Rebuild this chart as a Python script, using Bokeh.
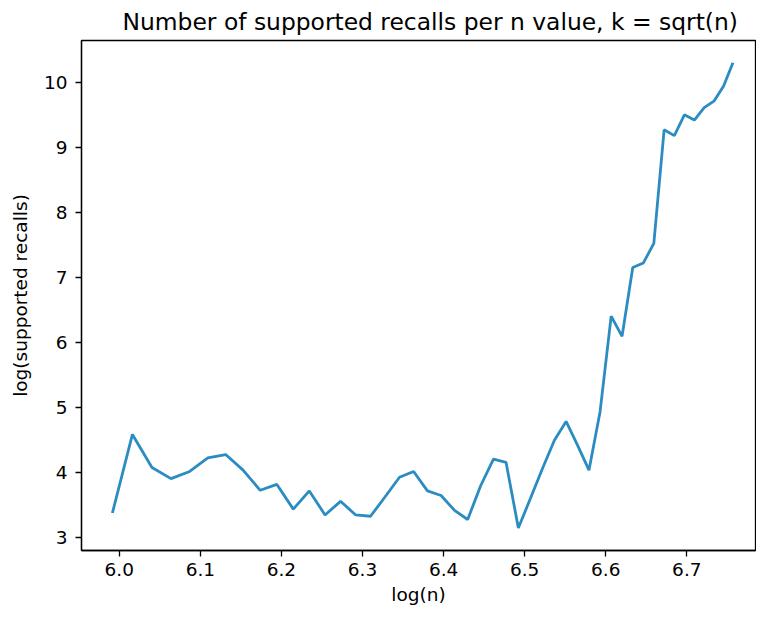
from bokeh.plotting import figure
from bokeh.models import FixedTicker, PrintfTickFormatter, Range1d
from bokeh.embed import file_html
from bokeh.resources import INLINE

# log(n) values, n = 400 .. 860 in steps of 10
log_n = [5.9915, 6.0162, 6.0403, 6.0638, 6.0868, 6.1092, 6.1312, 6.1527, 6.1738, 6.1944,
         6.2146, 6.2344, 6.2538, 6.2729, 6.2916, 6.3099, 6.3279, 6.3456, 6.3630, 6.3801,
         6.3969, 6.4135, 6.4297, 6.4457, 6.4615, 6.4770, 6.4922, 6.5073, 6.5221, 6.5367,
         6.5511, 6.5653, 6.5793, 6.5930, 6.6067, 6.6201, 6.6333, 6.6464, 6.6593, 6.6720,
         6.6846, 6.6970, 6.7093, 6.7214, 6.7334, 6.7452, 6.7569]
log_recalls = [3.37, 4.58, 4.07, 3.90, 4.01, 4.22, 4.27, 4.03, 3.72, 3.81,
               3.43, 3.71, 3.34, 3.55, 3.34, 3.32, 3.62, 3.92, 4.01, 3.71,
               3.64, 3.41, 3.27, 3.79, 4.20, 4.15, 3.14, 3.60, 4.06, 4.49,
               4.78, 4.41, 4.03, 4.93, 6.40, 6.09, 7.15, 7.22, 7.52, 9.27,
               9.18, 9.50, 9.42, 9.61, 9.71, 9.94, 10.30]
x_ticks = [6.0, 6.1, 6.2, 6.3, 6.4, 6.5, 6.6, 6.7]
y_ticks = [3, 4, 5, 6, 7, 8, 9, 10]

FONT = "DejaVu Sans"

p = figure(width=756, height=607, output_backend="svg", toolbar_location=None,
           title="Number of supported recalls per n value, k = sqrt(n)",
           x_range=Range1d(5.9534, 6.7847), y_range=Range1d(2.793, 10.644),
           min_border_left=81, min_border_right=1, min_border_top=38, min_border_bottom=54)

p.line(log_n, log_recalls, line_color="#2b8cc2", line_width=2.8)

p.title.text_font = FONT
p.title.text_font_size = "23.4px"
p.title.text_font_style = "normal"
p.title.align = "left"
p.title.offset = 41
p.title.text_color = "black"

p.xgrid.visible = False
p.ygrid.visible = False
p.outline_line_color = "black"
p.outline_line_width = 1.3

p.xaxis.ticker = FixedTicker(ticks=x_ticks)
p.yaxis.ticker = FixedTicker(ticks=y_ticks)
p.xaxis.formatter = PrintfTickFormatter(format="%.1f")
p.yaxis.formatter = PrintfTickFormatter(format="%d")
p.xaxis.axis_label = "log(n)"
p.yaxis.axis_label = "log(supported recalls)"

for ax in (p.xaxis[0], p.yaxis[0]):
    ax.axis_line_color = "black"
    ax.axis_line_width = 1.3
    ax.major_tick_line_color = "black"
    ax.major_tick_line_width = 1.3
    ax.major_tick_out = 6
    ax.major_tick_in = 0
    ax.minor_tick_line_color = None
    ax.major_label_text_font = FONT
    ax.major_label_text_font_size = "18.5px"
    ax.major_label_text_color = "black"
    ax.axis_label_text_font = FONT
    ax.axis_label_text_font_size = "18.5px"
    ax.axis_label_text_font_style = "normal"
    ax.axis_label_text_color = "black"

p.yaxis.major_label_standoff = 8
p.yaxis.axis_label_standoff = 10
p.xaxis.major_label_standoff = 6
p.xaxis.axis_label_standoff = 5

open("out.html", "w").write(file_html(p, INLINE))
